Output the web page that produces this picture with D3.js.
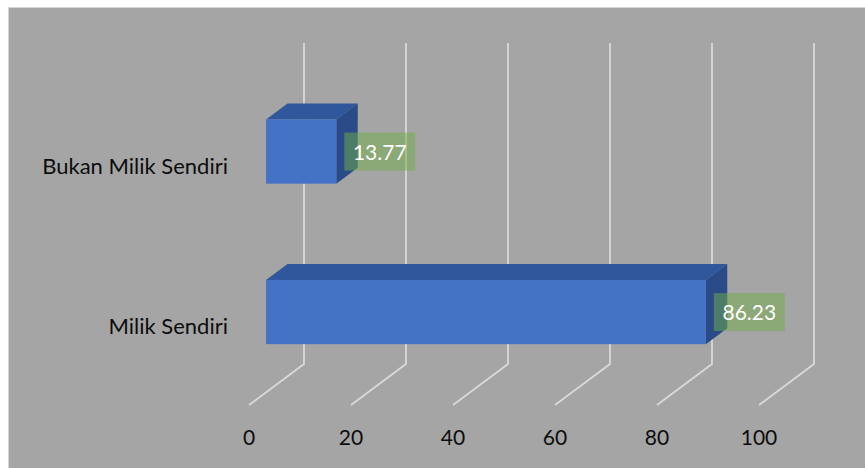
<!DOCTYPE html>
<html>
<head>
<meta charset="utf-8">
<script src="https://cdn.jsdelivr.net/npm/d3@7"></script>
<style>
  html, body { margin: 0; padding: 0; background: #ffffff; }
  svg { display: block; }
  text { font-family: Lato, "Open Sans", "Liberation Sans", sans-serif; }
</style>
</head>
<body>
<svg id="chart" width="865" height="468"></svg>
<script>
// ---- data ----
const categories = ["Milik Sendiri", "Bukan Milik Sendiri"];
const values = [86.23, 13.77];
const tickValues = [0, 20, 40, 60, 80, 100];
const labelTexts = ["86.23", "13.77"];

// ---- layout ----
const W = 865, H = 468;
const svg = d3.select("#chart");

// chart area background
svg.append("rect")
  .attr("x", 8.5).attr("y", 7.5)
  .attr("width", W).attr("height", H)
  .attr("fill", "#a5a5a5")
  .attr("stroke", "#d4d4d4").attr("stroke-width", 1);

// oblique 3D depth vector (front -> back)
const DX = 55, DY = -41;
const d1 = 0.31, d2 = 0.70; // bar depth extent

const x = d3.scaleLinear().domain([0, 100]).range([249, 759]);
const y = d3.scaleBand().domain(categories).range([405, 84])
  .paddingInner(0.6).paddingOuter(0.3);

const yFloor = y.range()[0];
const yTop = y.range()[1];

function P(v, yy, d) { return [x(v) + d * DX, yy + d * DY]; }

// gridlines: back wall verticals + floor diagonals
const grid = svg.append("g")
  .attr("stroke", "#d9d9d9").attr("stroke-width", 1.8).attr("fill", "none");
tickValues.forEach(t => {
  const a = P(t, yFloor, 0), b = P(t, yFloor, 1), c = P(t, yTop, 1);
  grid.append("path").attr("d", d3.line()([a, b, c]));
});

// tick labels (front plane)
svg.append("g").selectAll("text").data(tickValues).join("text")
  .attr("x", d => x(d))
  .attr("y", 445)
  .attr("text-anchor", "middle")
  .attr("font-size", 21)
  .attr("fill", "#0d0d0d")
  .text(d => d);

// category labels
svg.append("g").selectAll("text").data(categories).join("text")
  .attr("x", 228)
  .attr("y", d => y(d) + y.bandwidth() / 2 + 9.5)
  .attr("text-anchor", "end")
  .attr("font-size", 22)
  .attr("fill", "#0d0d0d")
  .text(d => d);

// bars
const bars = svg.append("g");
categories.forEach((c, i) => {
  const v = values[i];
  const top = y(c), bot = y(c) + y.bandwidth();
  const line = d3.line();
  // top face
  bars.append("path")
    .attr("d", line([P(0, top, d1), P(v, top, d1), P(v, top, d2), P(0, top, d2)]) + "Z")
    .attr("fill", "#30569b");
  // right side face
  bars.append("path")
    .attr("d", line([P(v, top, d1), P(v, top, d2), P(v, bot, d2), P(v, bot, d1)]) + "Z")
    .attr("fill", "#2a4b87");
  // front face
  const f0 = P(0, top, d1), f1 = P(v, bot, d1);
  bars.append("rect")
    .attr("x", f0[0]).attr("y", f0[1])
    .attr("width", f1[0] - f0[0]).attr("height", f1[1] - f0[1])
    .attr("fill", "#4472c4");
});

// data labels
const lab = svg.append("g");
categories.forEach((c, i) => {
  const v = values[i];
  const top = y(c), bot = y(c) + y.bandwidth();
  const ex = P(v, top, d1)[0];
  const cy = (P(v, top, d1)[1] + P(v, bot, d1)[1]) / 2;
  const bw = 71, bh = 38;
  lab.append("rect")
    .attr("x", ex + 8).attr("y", cy - bh / 2)
    .attr("width", bw).attr("height", bh)
    .attr("fill", "#70ad47").attr("fill-opacity", 0.5);
  lab.append("text")
    .attr("x", ex + 8 + bw / 2).attr("y", cy + 8)
    .attr("text-anchor", "middle")
    .attr("font-size", 21)
    .attr("fill", "#ffffff")
    .text(labelTexts[i]);
});
</script>
</body>
</html>
